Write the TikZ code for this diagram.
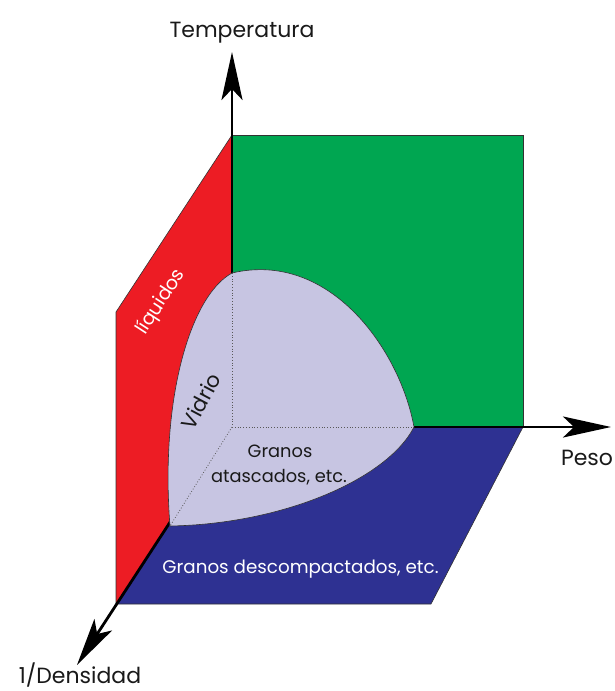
\documentclass[tikz,border=0pt]{standalone}
\usepackage{fontspec}
\setmainfont{Poppins}
\usetikzlibrary{arrows.meta}
\definecolor{cgreen}{RGB}{0,166,81}
\definecolor{cred}{RGB}{237,28,36}
\definecolor{cblue}{RGB}{46,49,146}
\definecolor{clav}{RGB}{199,197,226}
\definecolor{cedge}{RGB}{50,50,50}
\tikzset{
  face/.style={draw=cedge, line width=0.6pt},
  axis/.style={line width=2.8pt, black, -{Stealth[length=48pt,width=21pt,inset=11pt]}},
  hidden/.style={draw=gray!70!black, line width=0.8pt, dotted},
  lbl/.style={font=\fontsize{22}{24}\selectfont, text=black!90, inner sep=0pt, anchor=base},
}
\begin{document}
\begin{tikzpicture}[x=1pt,y=-1pt]
\useasboundingbox (0,0) rectangle (615,691);
% coordinates
\coordinate (O) at (232,427);
\coordinate (GT) at (232,135);
\coordinate (GTR) at (523,135);
\coordinate (GBR) at (523,427);
\coordinate (RTL) at (116,312);
\coordinate (RBL) at (116,604);
\coordinate (BBR) at (431,604);
\coordinate (TT) at (232,52);
\coordinate (PT) at (611,427);
\coordinate (DT) at (77,665);
\coordinate (L1) at (232,273);
\coordinate (L2) at (414,427);
\coordinate (L3) at (170,526);
% faces
\fill[cgreen] (GT) -- (GTR) -- (GBR) -- (O) -- cycle;
\draw[face] (GT) -- (GTR) -- (GBR);
\fill[cred] (GT) -- (RTL) -- (RBL) -- (O) -- cycle;
\draw[face] (GT) -- (RTL) -- (RBL);
\fill[cblue] (O) -- (GBR) -- (BBR) -- (RBL) -- cycle;
\draw[face] (GBR) -- (BBR) -- (RBL);
% axes
\draw[axis] (O) -- (TT);
\draw[axis] (O) -- (PT);
\draw[axis] (O) -- (DT);
% glass region
\fill[clav] (L1) .. controls (330,250) and (400,350) .. (L2)
  .. controls (388,478) and (285,524) .. (L3)
  .. controls (160,400) and (190,296) .. (L1) -- cycle;
\draw[face] (L1) .. controls (330,250) and (400,350) .. (L2)
  .. controls (388,478) and (285,524) .. (L3)
  .. controls (160,400) and (190,296) .. (L1);
\draw[hidden] (L1) -- (O) -- (L2);
\draw[hidden] (O) -- (L3);
% labels
\node[lbl] (tl) at (242,37) {Temperatura};
\node[lbl] (pl) at (587,465) {Peso};
\node[lbl] (dl) at (80,683) {1/Densidad};
\node[lbl, anchor=center, text=white, font=\fontsize{19}{21}\selectfont, rotate=57] (liq) at (161,302) {líquidos};
\node[lbl, anchor=center, font=\fontsize{21}{23}\selectfont, rotate=62] (vid) at (201,401) {Vidrio};
\node[lbl, font=\fontsize{17.8}{20}\selectfont] (ga1) at (280,457) {Granos};
\node[lbl, font=\fontsize{17.8}{20}\selectfont] (ga2) at (279,482) {atascados, etc.};
\node[lbl, text=white, font=\fontsize{18.3}{20}\selectfont] (gd) at (300.5,573) {Granos descompactados, etc.};
\end{tikzpicture}
\end{document}
